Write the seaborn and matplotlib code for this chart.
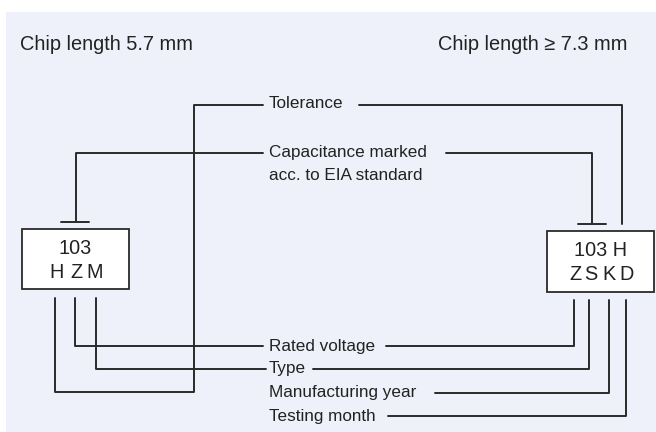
import matplotlib
matplotlib.use('Agg')
import matplotlib.pyplot as plt
import pandas as pd
import seaborn as sns
from matplotlib.patches import Rectangle

# --- Diagram content (pixel coordinates) ---
headers = ["Chip length 5.7 mm", "Chip length \u2265 7.3 mm"]
header_x = [20, 438]
header_y = [44, 44]

labels = ["Tolerance", "Capacitance marked", "acc. to EIA standard",
          "Rated voltage", "Type", "Manufacturing year", "Testing month"]
label_x = 269
label_y = [104, 153, 175, 346, 369, 393, 416]

# chip boxes: (left, top, right, bottom)
box_left = [22, 229, 129, 289]
box_right = [547, 231, 654, 292]
left_top_text = "103"
left_letters = ["H", "Z", "M"]
left_letter_x = [57, 76, 95]
right_top_text = "103 H"
right_letters = ["Z", "S", "K", "D"]
right_letter_x = [575, 591, 609, 627]

# connector paths
paths = {
    "tol_left":   ([263, 194, 194, 55, 55], [105, 105, 392, 392, 298]),
    "cap_left":   ([263, 76, 76], [153, 153, 222]),
    "cap_left_t": ([61, 89], [222, 222]),
    "volt_left":  ([263, 75, 75], [346, 346, 298]),
    "type_left":  ([266, 96, 96], [369, 369, 298]),
    "tol_right":  ([359, 622, 622], [105, 105, 224]),
    "cap_right":  ([446, 592, 592], [153, 153, 224]),
    "cap_right_t": ([578, 606], [224, 224]),
    "volt_right": ([386, 574, 574], [346, 346, 300]),
    "type_right": ([313, 589, 589], [369, 369, 300]),
    "year_right": ([435, 609, 609], [393, 393, 300]),
    "month_right": ([388, 626, 626], [416, 416, 300]),
}

BG = "#eef1f9"
INK = "#2a2a2a"

sns.set_theme(style="white")
plt.rcParams['font.family'] = ['Liberation Sans', 'DejaVu Sans']

rows = []
for name, (xs, ys) in paths.items():
    for i, (px, py) in enumerate(zip(xs, ys)):
        rows.append({"path": name, "order": i, "x": px, "y": py})
df = pd.DataFrame(rows)

fig = plt.figure(figsize=(6.56, 4.32), dpi=100)
ax = fig.add_axes([0, 0, 1, 1])

ax.add_patch(Rectangle((6, 12), 650, 420, facecolor=BG, edgecolor='none', zorder=0))

sns.lineplot(data=df, x="x", y="y", units="path", estimator=None, sort=False,
             color=INK, linewidth=1.4, ax=ax, legend=False, zorder=2)
ax.set_xlim(0, 656)
ax.set_ylim(432, 0)
ax.axis('off')

for (l, t, r, b) in [box_left, box_right]:
    ax.add_patch(Rectangle((l, t), r - l, b - t, facecolor='white',
                           edgecolor=INK, linewidth=1.3, zorder=3))

for txt, hx, hy in zip(headers, header_x, header_y):
    ax.text(hx, hy, txt, fontsize=14.4, color='#222222', ha='left', va='center')

for txt, ly in zip(labels, label_y):
    ax.text(label_x, ly, txt, fontsize=12.3, color='#222222', ha='left', va='center')

box_fs = 14.3
ax.text((box_left[0] + box_left[2]) / 2, 249, left_top_text, fontsize=box_fs,
        color='#222222', ha='center', va='center', zorder=4)
for ch, cx in zip(left_letters, left_letter_x):
    ax.text(cx, 272, ch, fontsize=box_fs, color='#222222', ha='center', va='center', zorder=4)
ax.text(601, 251, right_top_text, fontsize=box_fs, color='#222222',
        ha='center', va='center', zorder=4)
for ch, cx in zip(right_letters, right_letter_x):
    ax.text(cx, 274, ch, fontsize=box_fs, color='#222222', ha='center', va='center', zorder=4)

fig.savefig("out.png", dpi=100, facecolor='white')
